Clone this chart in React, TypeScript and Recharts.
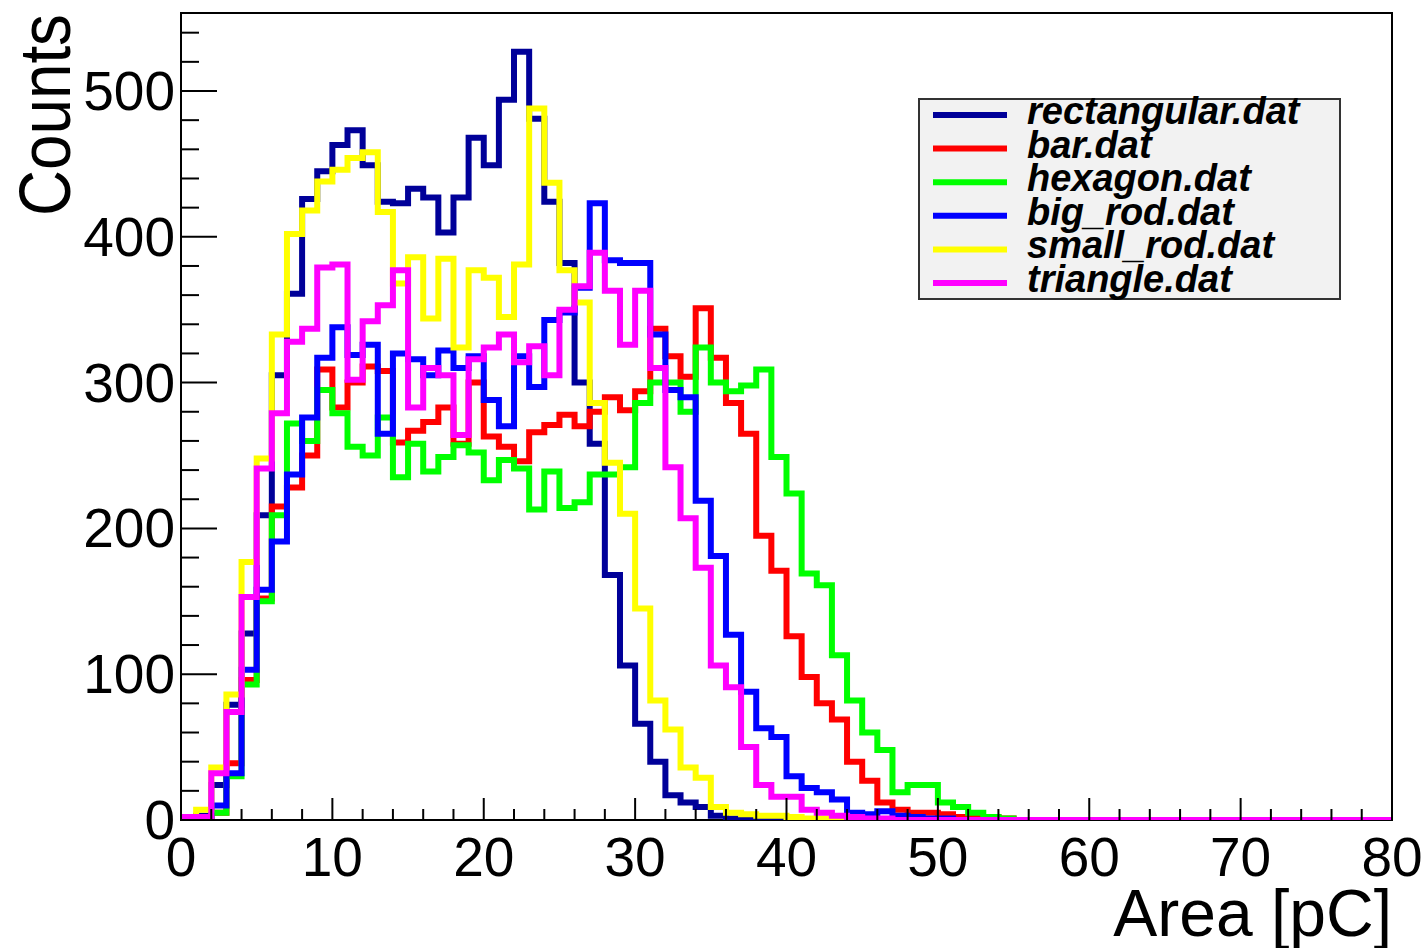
import React from 'react';
import { LineChart, Line, XAxis, YAxis, ReferenceArea, Legend } from 'recharts';

// histogram bins: 1 pC wide, 0..80 pC (empty bins at the tail)
const rectangular = [0, 3, 24, 79, 128, 209, 305, 361, 426, 445, 463, 473, 449, 424, 423, 433, 427, 403, 427, 468, 449, 494, 527, 481, 424, 382, 300, 258, 168, 106, 66, 40, 17, 12, 9, 3, 1, 1];
const bar = [0, 0, 5, 39, 96, 152, 215, 228, 250, 309, 283, 300, 311, 308, 259, 267, 273, 283, 258, 300, 263, 256, 246, 266, 271, 278, 270, 280, 290, 281, 294, 337, 318, 304, 351, 317, 286, 265, 195, 171, 126, 98, 80, 69, 40, 27, 12, 7, 5, 5, 4, 2, 2, 2, 1];
const hexagon = [0, 0, 5, 30, 93, 150, 209, 272, 260, 295, 279, 256, 250, 276, 235, 258, 239, 249, 257, 252, 233, 247, 241, 213, 239, 214, 218, 237, 237, 242, 286, 300, 300, 280, 324, 300, 294, 298, 309, 249, 224, 169, 161, 113, 82, 60, 48, 19, 24, 24, 12, 9, 5, 2, 1];
const bigRod = [0, 0, 10, 32, 103, 158, 191, 237, 276, 317, 338, 319, 326, 265, 320, 316, 305, 322, 310, 318, 288, 270, 318, 297, 343, 348, 365, 423, 384, 382, 382, 333, 295, 290, 219, 181, 127, 88, 63, 57, 30, 22, 19, 14, 5, 4, 6, 3, 2, 1, 1];
const smallRod = [2, 7, 36, 86, 177, 248, 333, 402, 418, 438, 446, 454, 458, 417, 368, 386, 344, 385, 324, 377, 372, 345, 381, 488, 437, 377, 355, 286, 245, 210, 145, 82, 62, 36, 29, 9, 5, 4, 3, 3, 2, 1, 1];
const triangle = [2, 2, 32, 74, 153, 241, 279, 328, 337, 379, 381, 302, 342, 353, 377, 283, 310, 305, 264, 316, 324, 333, 314, 325, 305, 350, 366, 389, 363, 326, 363, 310, 242, 207, 173, 106, 91, 50, 24, 16, 16, 7, 5, 3, 2, 1, 1];

const seriesNames = ['rectangular.dat', 'bar.dat', 'hexagon.dat', 'big_rod.dat', 'small_rod.dat', 'triangle.dat'];
const seriesColors = ['#000099', '#ff0000', '#00ff00', '#0000ff', '#ffff00', '#ff00ff'];
const seriesValues = [rectangular, bar, hexagon, bigRod, smallRod, triangle];

const nBins = 80;
const xMajorTicks = [0, 10, 20, 30, 40, 50, 60, 70, 80];
const yMajorTicks = [0, 100, 200, 300, 400, 500];
const yMax = 553.5;

const xTicks: number[] = [];
for (let v = 0; v <= nBins; v += 2) xTicks.push(v);
const yTicks: number[] = [];
for (let v = 0; v <= 540; v += 20) yTicks.push(v);

// one row per bin edge; stepAfter draws each bin flat from its low edge
const data = Array.from({ length: nBins + 1 }, (_, i) => {
  const row: Record<string, number> = { x: i };
  seriesValues.forEach((vals, s) => {
    const bin = Math.min(i, nBins - 1);
    row['s' + s] = bin < vals.length ? vals[bin] : 0;
  });
  return row;
});

const font = '"Liberation Sans", Arial, Helvetica, sans-serif';

const XTick = (props: any) => {
  const { x, y, payload } = props;
  const major = xMajorTicks.includes(payload.value);
  return (
    <g>
      <line x1={x} x2={x} y1={y} y2={y - (major ? 22 : 11)} stroke="#000" strokeWidth={2} />
      {major && (
        <text x={x} y={y + 56} textAnchor="middle" fontSize={55} fontFamily={font} fill="#000">
          {payload.value}
        </text>
      )}
    </g>
  );
};

const YTick = (props: any) => {
  const { x, y, payload } = props;
  const major = yMajorTicks.includes(payload.value);
  return (
    <g>
      <line x1={x} x2={x + (major ? 36 : 18)} y1={y} y2={y} stroke="#000" strokeWidth={2} />
      {major && (
        <text x={x - 6} y={y} dy={19} textAnchor="end" fontSize={55} fontFamily={font} fill="#000">
          {payload.value}
        </text>
      )}
    </g>
  );
};

const renderLegend = () => (
  <div style={{ width: 423, height: 202, background: '#f2f2f2', border: '2px solid #333', boxSizing: 'border-box' }}>
    <svg width={419} height={198} style={{ overflow: 'visible' }}>
      {seriesNames.map((name, i) => {
        const cy = 15 + i * 33.6;
        return (
          <g key={name}>
            <line x1={13} x2={87} y1={cy} y2={cy} stroke={seriesColors[i]} strokeWidth={6} />
            <text x={107} y={cy + 9} fontSize={38} fontStyle="italic" fontWeight="bold" fontFamily={font} fill="#000">
              {name}
            </text>
          </g>
        );
      })}
    </svg>
  </div>
);

export default function App() {
  return (
    <div style={{ position: 'absolute', left: 0, top: 0, width: 1426, height: 948, background: '#fff' }}>
      <LineChart width={1426} height={948} data={data} margin={{ top: 13, right: 34, bottom: 127, left: 180 }}>
        <XAxis
          dataKey="x"
          type="number"
          domain={[0, nBins]}
          ticks={xTicks}
          interval={0}
          height={1}
          axisLine={false}
          tickLine={false}
          tickSize={0}
          tickMargin={0}
          tick={XTick}
          label={{
            content: () => (
              <text x={1392} y={936} textAnchor="end" fontSize={66} fontFamily={font} fill="#000">
                Area [pC]
              </text>
            ),
          }}
        />
        <YAxis
          type="number"
          domain={[0, yMax]}
          allowDataOverflow
          ticks={yTicks}
          interval={0}
          width={1}
          axisLine={false}
          tickLine={false}
          tickSize={0}
          tickMargin={0}
          tick={YTick}
          label={{
            content: () => (
              <text
                transform="translate(70,14) rotate(-90)"
                textAnchor="end"
                fontSize={73}
                textLength={202}
                lengthAdjust="spacingAndGlyphs"
                fontFamily={font}
                fill="#000"
              >
                Counts
              </text>
            ),
          }}
        />
        <ReferenceArea x1={0} x2={nBins} y1={0} y2={yMax} fill="none" stroke="#000" strokeWidth={2} ifOverflow="visible" />
        {seriesNames.map((name, i) => (
          <Line
            key={name}
            name={name}
            dataKey={'s' + i}
            type="stepAfter"
            stroke={seriesColors[i]}
            strokeWidth={6}
            strokeLinejoin="miter"
            dot={false}
            activeDot={false}
            isAnimationActive={false}
          />
        ))}
        <Legend
          layout="vertical"
          align="center"
          verticalAlign="middle"
          content={renderLegend}
          wrapperStyle={{ position: 'absolute', left: 918, top: 98, width: 423, height: 202 }}
        />
      </LineChart>
    </div>
  );
}
